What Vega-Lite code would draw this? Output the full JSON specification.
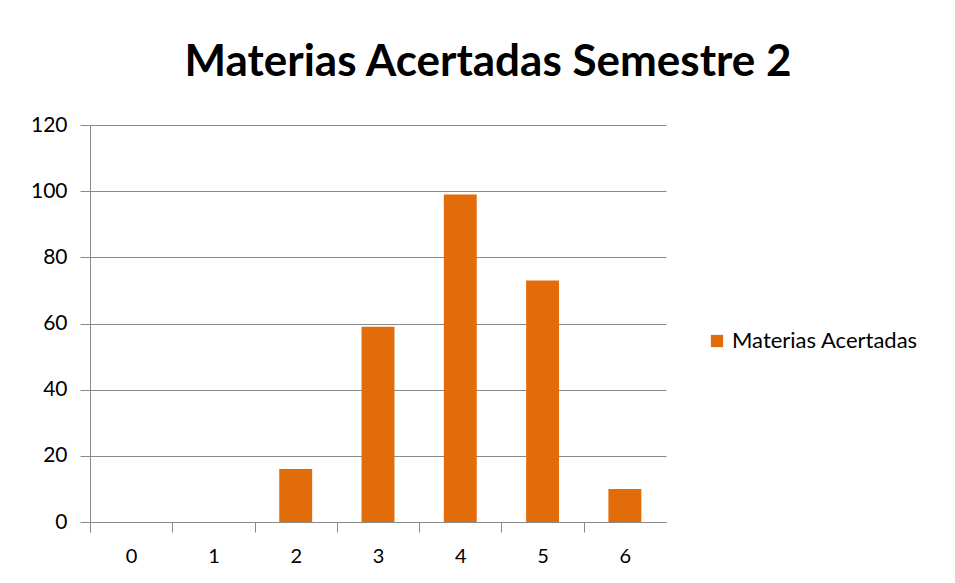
{
  "$schema": "https://vega.github.io/schema/vega-lite/v6.json",
  "autosize": "none",
  "width": 576,
  "height": 397,
  "padding": {"left": 90, "top": 125, "right": 289, "bottom": 61},
  "background": "white",
  "title": {
    "text": "Materias Acertadas Semestre 2",
    "font": "Lato",
    "fontSize": 44,
    "fontWeight": "bold",
    "color": "#000000",
    "anchor": "middle",
    "dx": 110,
    "offset": -6,
    "baseline": "alphabetic"
  },
  "data": {
    "values": [
      {"n": "0", "v": 0},
      {"n": "1", "v": 0},
      {"n": "2", "v": 16},
      {"n": "3", "v": 59},
      {"n": "4", "v": 99},
      {"n": "5", "v": 73},
      {"n": "6", "v": 10}
    ]
  },
  "mark": {"type": "bar"},
  "encoding": {
    "x": {
      "field": "n",
      "type": "nominal",
      "sort": null,
      "scale": {"paddingInner": 0.6, "paddingOuter": 0.3},
      "axis": {
        "title": null,
        "labelAngle": 0,
        "bandPosition": 0,
        "tickOffset": -24.7,
        "tickExtra": true,
        "labelOffset": 24.7,
        "tickSize": 10,
        "tickColor": "#888888",
        "domainColor": "#888888",
        "labelFont": "Lato",
        "labelFontSize": 20,
        "labelColor": "#000000",
        "labelPadding": 14,
        "grid": false
      }
    },
    "y": {
      "field": "v",
      "type": "quantitative",
      "scale": {"domain": [0, 120]},
      "axis": {
        "title": null,
        "values": [0, 20, 40, 60, 80, 100, 120],
        "tickSize": 10,
        "tickColor": "#888888",
        "domainColor": "#888888",
        "gridColor": "#888888",
        "labelFont": "Lato",
        "labelFontSize": 21,
        "labelColor": "#000000",
        "labelPadding": 13
      }
    },
    "color": {
      "datum": "Materias Acertadas",
      "type": "nominal",
      "scale": {"range": ["#E36C0A"]},
      "legend": {
        "title": null,
        "orient": "none",
        "legendX": 616,
        "legendY": 205,
        "symbolType": "square",
        "symbolSize": 150,
        "symbolOpacity": 1,
        "labelFont": "Lato",
        "labelFontSize": 22,
        "labelLimit": 0,
        "labelColor": "#000000"
      }
    }
  },
  "config": {"view": {"stroke": null}}
}
